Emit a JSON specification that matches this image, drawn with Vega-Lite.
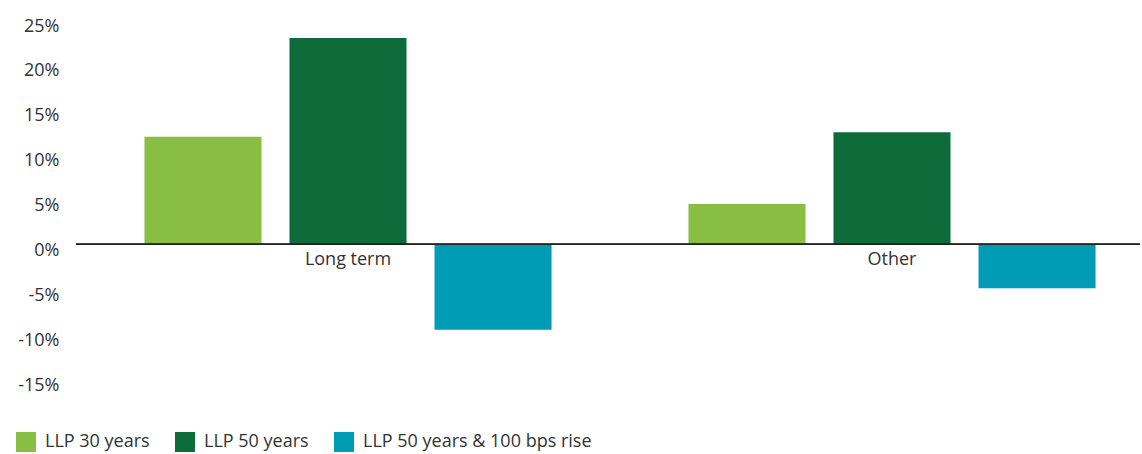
{
  "$schema": "https://vega.github.io/schema/vega-lite/v6.json",
  "autosize": {"type": "none"},
  "width": 1064,
  "height": 359,
  "padding": {"left": 76, "top": 20, "right": 2, "bottom": 75},
  "background": "white",
  "config": {
    "view": {"stroke": null},
    "font": "Open Sans",
    "axis": {"labelFont": "Open Sans", "labelFontSize": 18, "labelColor": "#333333"},
    "legend": {"labelFont": "Open Sans", "labelFontSize": 18, "labelColor": "#333333"}
  },
  "data": {
    "values": [
      {"group": "Long term", "scenario": "LLP 30 years", "value": 12.0},
      {"group": "Long term", "scenario": "LLP 50 years", "value": 23.0},
      {"group": "Long term", "scenario": "LLP 50 years & 100 bps rise", "value": -9.5},
      {"group": "Other", "scenario": "LLP 30 years", "value": 4.5},
      {"group": "Other", "scenario": "LLP 50 years", "value": 12.5},
      {"group": "Other", "scenario": "LLP 50 years & 100 bps rise", "value": -4.9}
    ]
  },
  "layer": [
    {
      "mark": {"type": "bar"},
      "encoding": {
        "x": {
          "field": "group",
          "type": "nominal",
          "sort": ["Long term", "Other"],
          "scale": {"range": [0, 1088], "paddingInner": 0, "paddingOuter": 0},
          "axis": {
            "title": null,
            "orient": "bottom",
            "offset": -136,
            "domain": false,
            "ticks": false,
            "labelAngle": 0,
            "labelPadding": 7
          }
        },
        "xOffset": {
          "field": "scenario",
          "type": "nominal",
          "sort": ["LLP 30 years", "LLP 50 years", "LLP 50 years & 100 bps rise"],
          "scale": {"paddingInner": 0.193, "paddingOuter": 0.472}
        },
        "y": {
          "field": "value",
          "type": "quantitative",
          "scale": {"domain": [-15, 25], "nice": false, "zero": false},
          "axis": {
            "title": null,
            "values": [-15, -10, -5, 0, 5, 10, 15, 20, 25],
            "labelExpr": "datum.value + '%'",
            "grid": false,
            "domain": false,
            "ticks": false,
            "labelPadding": 17,
            "labelOffset": 6
          }
        },
        "color": {
          "field": "scenario",
          "type": "nominal",
          "sort": ["LLP 30 years", "LLP 50 years", "LLP 50 years & 100 bps rise"],
          "scale": {
            "domain": ["LLP 30 years", "LLP 50 years", "LLP 50 years & 100 bps rise"],
            "range": ["#89BE44", "#0E6B3A", "#009BB4"]
          },
          "legend": {
            "title": null,
            "orient": "none",
            "direction": "horizontal",
            "columns": 3,
            "legendX": -60,
            "legendY": 412,
            "symbolType": "square",
            "symbolSize": 400,
            "symbolStrokeWidth": 0,
            "symbolOpacity": 1,
            "labelOffset": 9,
            "labelLimit": 0,
            "columnPadding": 25,
            "padding": 0
          }
        }
      }
    },
    {
      "mark": {"type": "rule", "color": "#222222", "strokeWidth": 1.3},
      "encoding": {"y": {"datum": 0}}
    }
  ]
}
